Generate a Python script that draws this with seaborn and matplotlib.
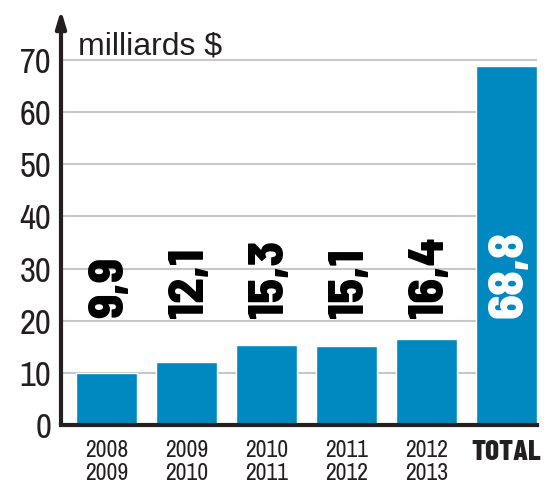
import matplotlib
matplotlib.use("Agg")
import matplotlib.pyplot as plt
import seaborn as sns
import pandas as pd

# data
periods = ["2008\n2009", "2009\n2010", "2010\n2011", "2011\n2012", "2012\n2013", "TOTAL"]
values = [9.9, 12.1, 15.3, 15.1, 16.4, 68.8]
labels = ["9,9", "12,1", "15,3", "15,1", "16,4", "68,8"]
y_ticks = [0, 10, 20, 30, 40, 50, 60, 70]

sns.set_style("white")
plt.rcParams["font.family"] = ["Archivo Narrow", "DejaVu Sans"]

blue = "#0089c0"
ink = "#231f20"
heavy = ["Barlow Semi Condensed", "DejaVu Sans"]

df = pd.DataFrame({"period": periods, "value": values})

fig = plt.figure(figsize=(5.53, 4.83), dpi=100)
ax = fig.add_axes([61 / 553, (483 - 425) / 483, (537 - 61) / 553, (425 - 10) / 483])

sns.barplot(data=df, x="period", y="value", color=blue, width=0.76,
            saturation=1, ax=ax, zorder=2)

ax.set_xlim(-0.57, 5.38)
ax.set_ylim(0, 79.6)
ax.set_yticks(y_ticks)
ax.set_yticklabels([str(t) for t in y_ticks], fontsize=25, color=ink)
ax.tick_params(axis="y", length=0, pad=7)
ax.tick_params(axis="x", length=0, pad=11)
ax.set_xlabel("")
ax.set_ylabel("")

for i, lab in enumerate(ax.get_xticklabels()):
    lab.set_color(ink)
    lab.set_fontsize(17)
    lab.set_linespacing(1.1)
    lab.set_verticalalignment("top")
    if periods[i] == "TOTAL":
        lab.set_family(["Barlow Condensed", "DejaVu Sans"])
        lab.set_fontweight(800)
        lab.set_fontsize(21)

for y in y_ticks[1:]:
    ax.axhline(y, color="#c8c8c8", lw=1.5, zorder=1)

for s in ["top", "right", "left"]:
    ax.spines[s].set_visible(False)
ax.spines["bottom"].set_color(ink)
ax.spines["bottom"].set_linewidth(3)
ax.spines["bottom"].set_zorder(3)

# y-axis arrow
ax.annotate("", xy=(0, 1.0), xytext=(0, 0), xycoords="axes fraction",
            arrowprops=dict(arrowstyle="-|>,head_width=0.3,head_length=1.0",
                            color=ink, lw=3, shrinkA=0, shrinkB=0), zorder=4)

ax.text(0.035, 0.892, "milliards $", transform=ax.transAxes, fontsize=23,
        family=["Liberation Sans", "DejaVu Sans"], color=ink, ha="left", va="baseline")

for i, (v, lab) in enumerate(zip(values, labels)):
    col = "white" if periods[i] == "TOTAL" else "black"
    ax.text(i + 0.04, 20.6, lab, rotation=90, ha="center", va="bottom",
            fontsize=36, fontweight=800, family=heavy, color=col, zorder=5)

fig.savefig("out.png", dpi=100)
